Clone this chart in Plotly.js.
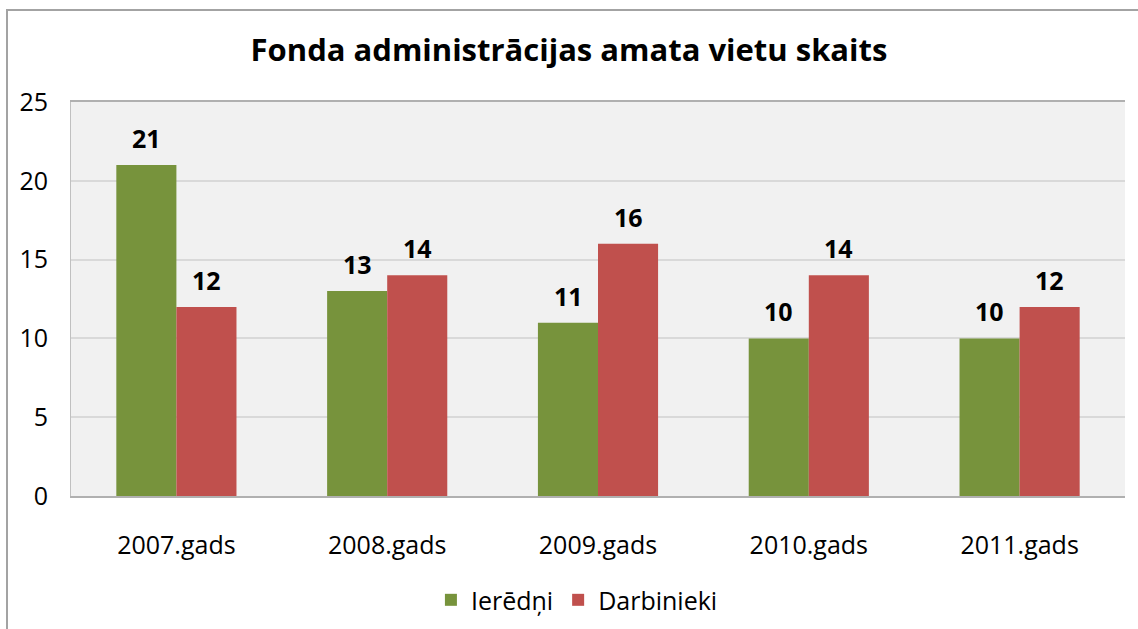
<!DOCTYPE html>
<html><head><meta charset="utf-8">
<script src="https://cdn.plot.ly/plotly-3.0.1.min.js"></script>
<style>
body{margin:0;padding:0;background:#fff;}
#wrap{position:relative;width:1138px;height:629px;overflow:hidden;}
#chart{position:absolute;left:0;top:0;width:1138px;height:629px;}
#frame{position:absolute;left:6px;top:9px;width:1200px;height:700px;border-left:2px solid #a3a3a3;border-top:2px solid #a3a3a3;pointer-events:none;}
</style></head>
<body><div id="wrap"><div id="chart"></div><div id="frame"></div></div>
<script>
const categories = ['2007.gads','2008.gads','2009.gads','2010.gads','2011.gads'];
const ierednValues = [21, 13, 11, 10, 10];
const darbiniekiValues = [12, 14, 16, 14, 12];
const seriesNames = ['Ierēdņi','Darbinieki'];
const yTicks = [0,5,10,15,20,25];

const font = '"Open Sans", sans-serif';
const traces = [
  {type:'bar', name:seriesNames[0], x:categories, y:ierednValues, marker:{color:'#77933C'}},
  {type:'bar', name:seriesNames[1], x:categories, y:darbiniekiValues, marker:{color:'#C0504D'}}
];
const annotations = [];
[ierednValues, darbiniekiValues].forEach((vals, si) => {
  vals.forEach((v, i) => {
    annotations.push({x:categories[i], y:v, xref:'x', yref:'y', text:'<b>'+v+'</b>',
      showarrow:false, yanchor:'bottom', yshift:8, xshift: si===0 ? -30 : 30,
      font:{family:font, size:25, color:'#000'}});
  });
});
const layout = {
  width:1138, height:629,
  margin:{l:71, r:13, t:102, b:133, autoexpand:false},
  paper_bgcolor:'rgba(0,0,0,0)', plot_bgcolor:'#F1F1F1',
  title:{text:'<b>Fonda administrācijas amata vietu skaits</b>', x:0.5, xanchor:'center', y:0.92, yanchor:'middle',
    font:{family:font, size:31, color:'#000'}},
  barmode:'group', bargap:0.43, bargroupgap:0,
  xaxis:{type:'category', showline:true, linecolor:'#B0B0B0', linewidth:2, mirror:true, showgrid:false,
    ticks:'', tickfont:{family:font, size:25, color:'#000'}, ticklabelstandoff:26, automargin:false},
  yaxis:{range:[0,25], tickvals:yTicks, showline:true, linecolor:'#C0C0C0', linewidth:1,
    gridcolor:'#D9D9D9', gridwidth:2, zeroline:false, ticks:'',
    tickfont:{family:font, size:25, color:'#000'}, ticklabelstandoff:17, automargin:false},
  showlegend:true,
  legend:{orientation:'h', x:0.48, xanchor:'center', yref:'container', y:0.046, yanchor:'middle',
    font:{family:font, size:25, color:'#000'}, itemwidth:30, traceorder:'normal'},
  annotations:annotations
};
Plotly.newPlot('chart', traces, layout, {staticPlot:true});
</script></body></html>
